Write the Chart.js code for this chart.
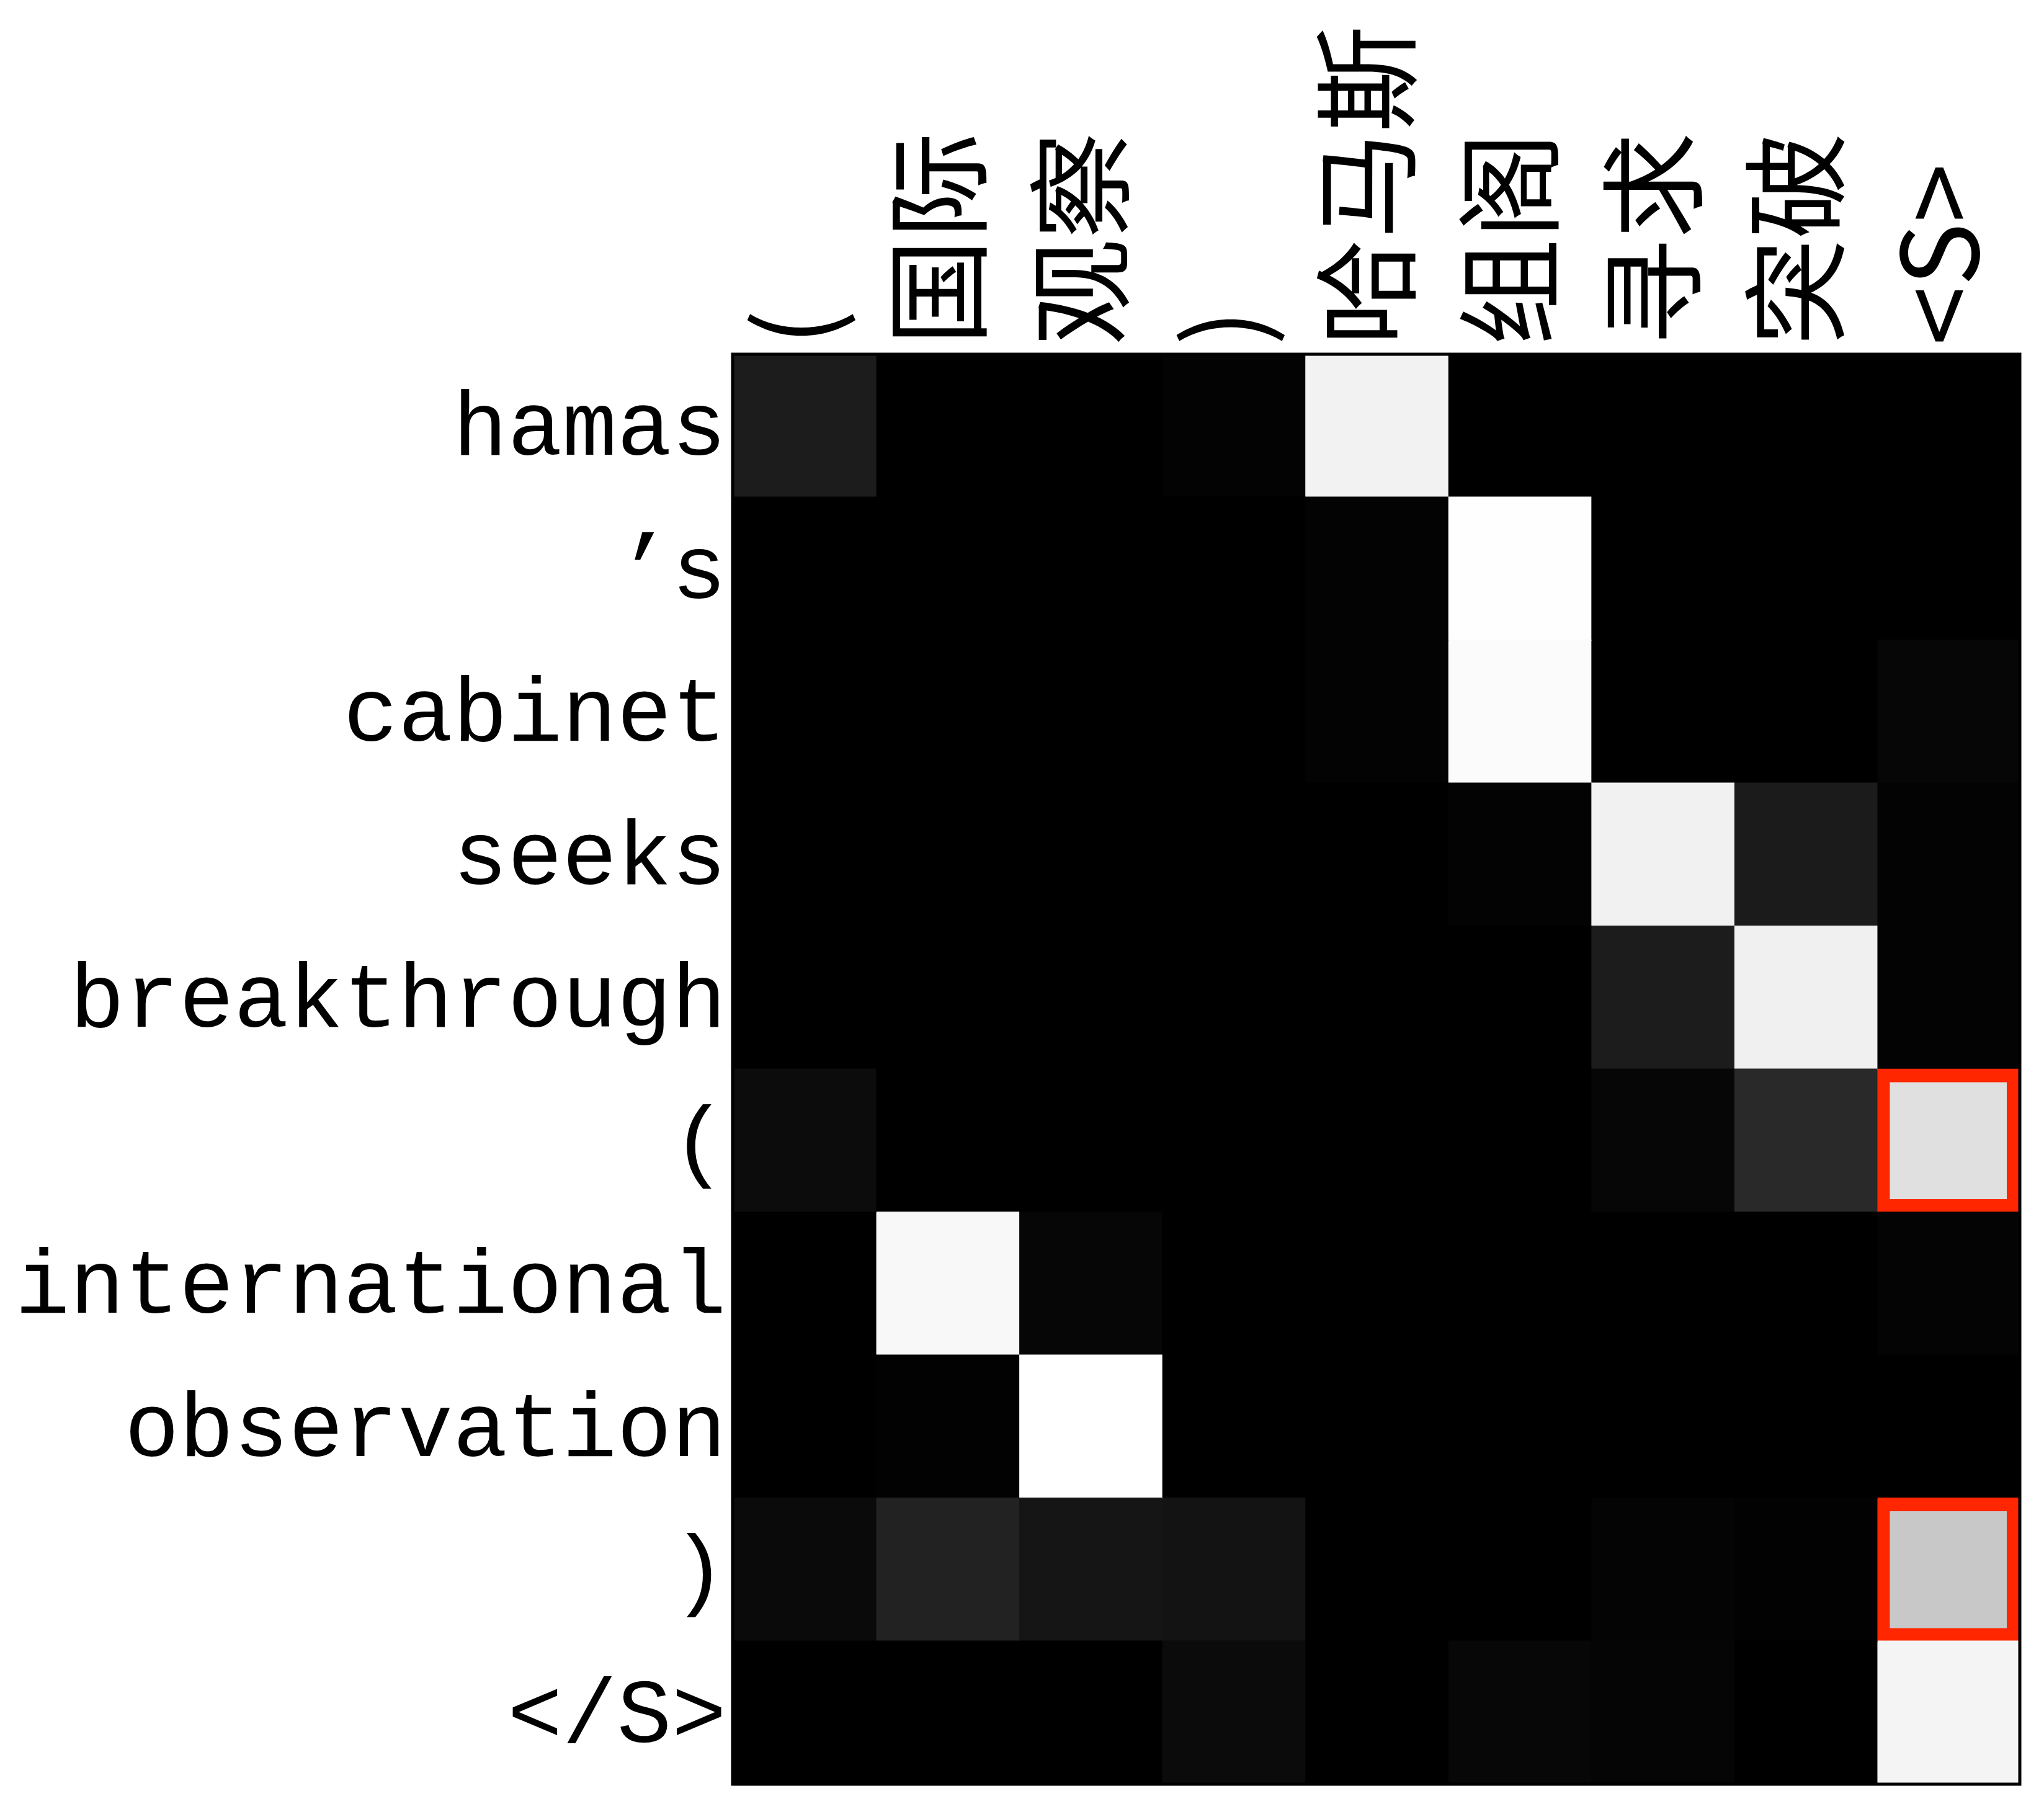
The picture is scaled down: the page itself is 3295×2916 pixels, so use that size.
<!DOCTYPE html>
<html>
<head>
<meta charset="utf-8">
<script src="https://cdn.jsdelivr.net/npm/chart.js@4.4.1/dist/chart.umd.min.js"></script>
<style>
  html, body { margin: 0; padding: 0; background: #fff; }
  #wrap { width: 3295px; height: 2916px; }
</style>
</head>
<body>
<div id="wrap"><canvas id="attn" width="3295" height="2916"></canvas></div>
<script>
// Source (columns) and target (rows) tokens
const colLabels = ["(", "国际", "观察", ")", "哈马斯", "组阁", "寻求", "突破", "<S>"];
const rowLabels = ["hamas", "’s", "cabinet", "seeks", "breakthrough", "(", "international", "observation", ")", "</S>"];

// Attention weights, one row per target token (0 = black, 1 = white)
const rowHamas        = [0.11, 0, 0, 0.01, 0.95, 0, 0, 0, 0];
const rowApos         = [0, 0, 0, 0, 0.012, 0.995, 0, 0, 0];
const rowCabinet      = [0, 0, 0, 0, 0.01, 0.985, 0, 0, 0.024];
const rowSeeks        = [0, 0, 0, 0, 0, 0.01, 0.945, 0.105, 0.012];
const rowBreakthrough = [0, 0, 0, 0, 0, 0, 0.11, 0.94, 0.012];
const rowOpenParen    = [0.047, 0, 0, 0, 0, 0, 0.024, 0.16, 0.878];
const rowInternational= [0, 0.973, 0.024, 0, 0, 0, 0, 0, 0.016];
const rowObservation  = [0, 0.008, 1.0, 0, 0, 0, 0, 0, 0];
const rowCloseParen   = [0.04, 0.133, 0.082, 0.075, 0, 0, 0.016, 0.008, 0.784];
const rowEos          = [0, 0, 0, 0.043, 0, 0.028, 0.02, 0, 0.955];

const weights = [rowHamas, rowApos, rowCabinet, rowSeeks, rowBreakthrough,
  rowOpenParen, rowInternational, rowObservation, rowCloseParen, rowEos];

// cells marked with a red box: [row, col]
const highlighted = [[5, 8], [8, 8]];

function grey(v) {
  const g = Math.round(v * 255);
  return `rgb(${g},${g},${g})`;
}

function isMarked(r, c) {
  return highlighted.some(h => h[0] === r && h[1] === c);
}

// one stacked dataset per source column, each cell of width 1
const datasets = colLabels.map((lbl, c) => ({
  label: lbl,
  data: rowLabels.map(() => 1),
  backgroundColor: rowLabels.map((_, r) => grey(weights[r][c])),
  borderColor: "#ff2600",
  borderWidth: rowLabels.map((_, r) => isMarked(r, c) ? 22 : 0),
  borderSkipped: false,
  inflateAmount: 1,
  categoryPercentage: 1,
  barPercentage: 1
}));

const framePlugin = {
  id: "frame",
  beforeDraw(chart) {
    const ctx = chart.ctx;
    ctx.save();
    ctx.fillStyle = "#fff";
    ctx.fillRect(0, 0, chart.width, chart.height);
    ctx.restore();
  },
  afterDatasetsDraw(chart) {
    const { left, top, right, bottom } = chart.chartArea;
    const ctx = chart.ctx;
    ctx.save();
    ctx.strokeStyle = "#000";
    ctx.lineWidth = 5;
    ctx.strokeRect(left, top, right - left, bottom - top);
    ctx.restore();
  }
};

new Chart(document.getElementById("attn"), {
  type: "bar",
  data: { labels: rowLabels, datasets },
  options: {
    indexAxis: "y",
    responsive: false,
    devicePixelRatio: 1,
    animation: false,
    layout: { padding: { left: 0, top: 0, right: 39, bottom: 40 } },
    plugins: { legend: { display: false }, tooltip: { enabled: false } },
    scales: {
      x: {
        type: "linear",
        stacked: true,
        min: 0,
        max: colLabels.length,
        display: false
      },
      y: {
        type: "category",
        stacked: true,
        offset: true,
        grid: { display: false, drawTicks: false },
        border: { display: false },
        ticks: {
          autoSkip: false,
          padding: 10,
          labelOffset: 8,
          color: "#000",
          font: { family: "'Liberation Mono', monospace", size: 147, lineHeight: 0.4 }
        },
        afterFit(scale) { scale.width = 1181; }
      },
      x2: {
        type: "category",
        labels: colLabels,
        position: "top",
        offset: true,
        grid: { display: false, drawTicks: false },
        border: { display: false },
        ticks: {
          autoSkip: false,
          minRotation: 90,
          maxRotation: 90,
          padding: 14,
          labelOffset: 190,
          color: "#000",
          font: { family: "'Noto Sans CJK SC', sans-serif", size: 172 }
        },
        afterFit(scale) { scale.height = 571; }
      }
    }
  },
  plugins: [framePlugin]
});
</script>
</body>
</html>
